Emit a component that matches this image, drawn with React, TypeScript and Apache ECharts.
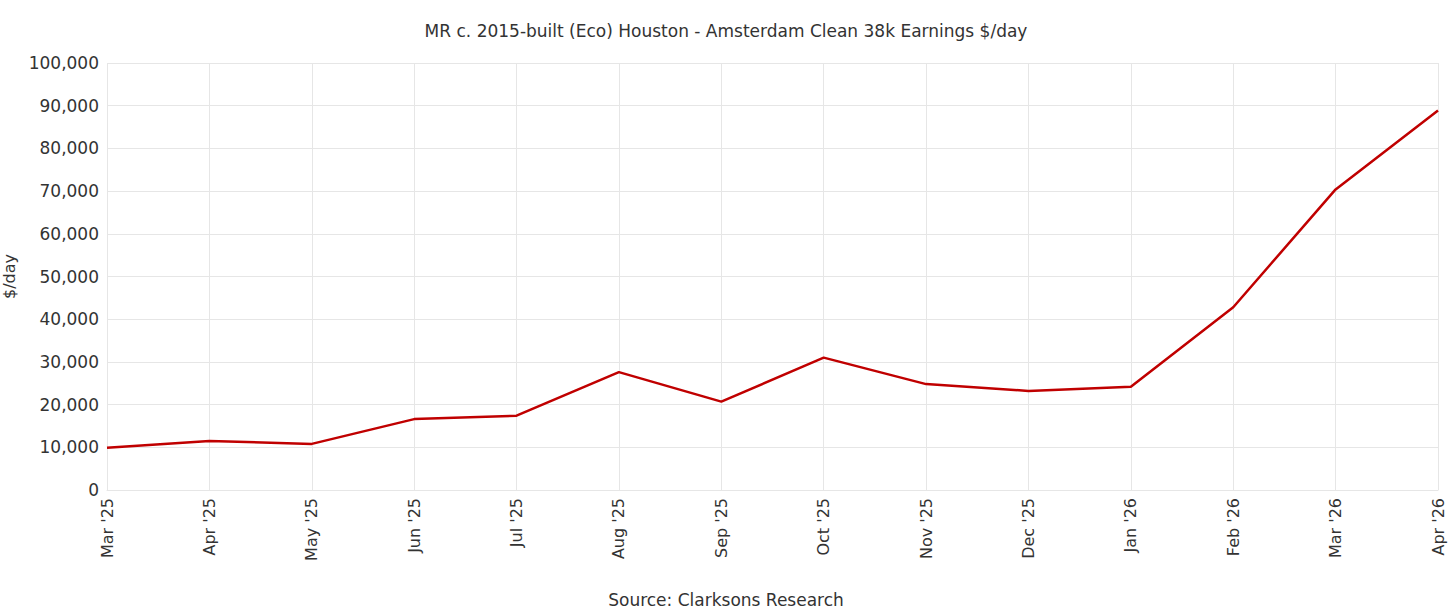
import React, { useEffect, useRef } from "react";
import * as echarts from "echarts";

const categories = ["Mar '25", "Apr '25", "May '25", "Jun '25", "Jul '25", "Aug '25", "Sep '25", "Oct '25", "Nov '25", "Dec '25", "Jan '26", "Feb '26", "Mar '26", "Apr '26"];
const earnings = [9900, 11500, 10800, 16600, 17400, 27600, 20700, 31000, 24800, 23200, 24200, 42800, 70400, 88900];
const title = "MR c. 2015-built (Eco) Houston - Amsterdam Clean 38k Earnings $/day";
const source = "Source: Clarksons Research";
const yName = "$/day";

const FONT = "'DejaVu Sans', sans-serif";

export default function App() {
  const ref = useRef<HTMLDivElement>(null);
  useEffect(() => {
    document.body.style.margin = "0";
    const chart = echarts.init(ref.current!, null, { renderer: "svg" });
    chart.setOption({
      animation: false,
      backgroundColor: "#ffffff",
      title: [
        { text: title, left: 721, textAlign: "center", top: 17, textStyle: { fontFamily: FONT, fontSize: 17, fontWeight: "normal", color: "#333333" } },
        { text: source, left: 721, textAlign: "center", top: 586, textStyle: { fontFamily: FONT, fontSize: 17, fontWeight: "normal", color: "#333333" } },
      ],
      grid: { left: 107, right: 18, top: 63, bottom: 120, containLabel: false, outerBoundsMode: "none" },
      xAxis: {
        type: "category",
        data: categories,
        boundaryGap: false,
        axisLine: { show: true, lineStyle: { color: "#e6e6e6" } },
        axisTick: { show: false },
        splitLine: { show: true, lineStyle: { color: "#e6e6e6" } },
        axisLabel: { rotate: 90, fontFamily: FONT, fontSize: 16, color: "#333333", margin: 8, interval: 0 },
      },
      yAxis: {
        type: "value",
        min: 0,
        max: 100000,
        interval: 10000,
        name: yName,
        nameLocation: "middle",
        nameGap: 89,
        nameRotate: 90,
        nameTextStyle: { fontFamily: FONT, fontSize: 16, color: "#333333" },
        axisLine: { show: false },
        axisTick: { show: false },
        splitLine: { show: true, lineStyle: { color: "#e6e6e6" } },
        axisLabel: {
          fontFamily: FONT,
          fontSize: 17,
          color: "#333333",
          margin: 8,
          formatter: (v: number) => v.toLocaleString("en-US"),
        },
      },
      series: [
        {
          type: "line",
          data: earnings,
          showSymbol: false,
          symbol: "none",
          lineStyle: { color: "#c00000", width: 2.5 },
          itemStyle: { color: "#c00000" },
        },
      ],
    });
    return () => chart.dispose();
  }, []);
  return <div ref={ref} style={{ width: 1456, height: 610 }} />;
}
